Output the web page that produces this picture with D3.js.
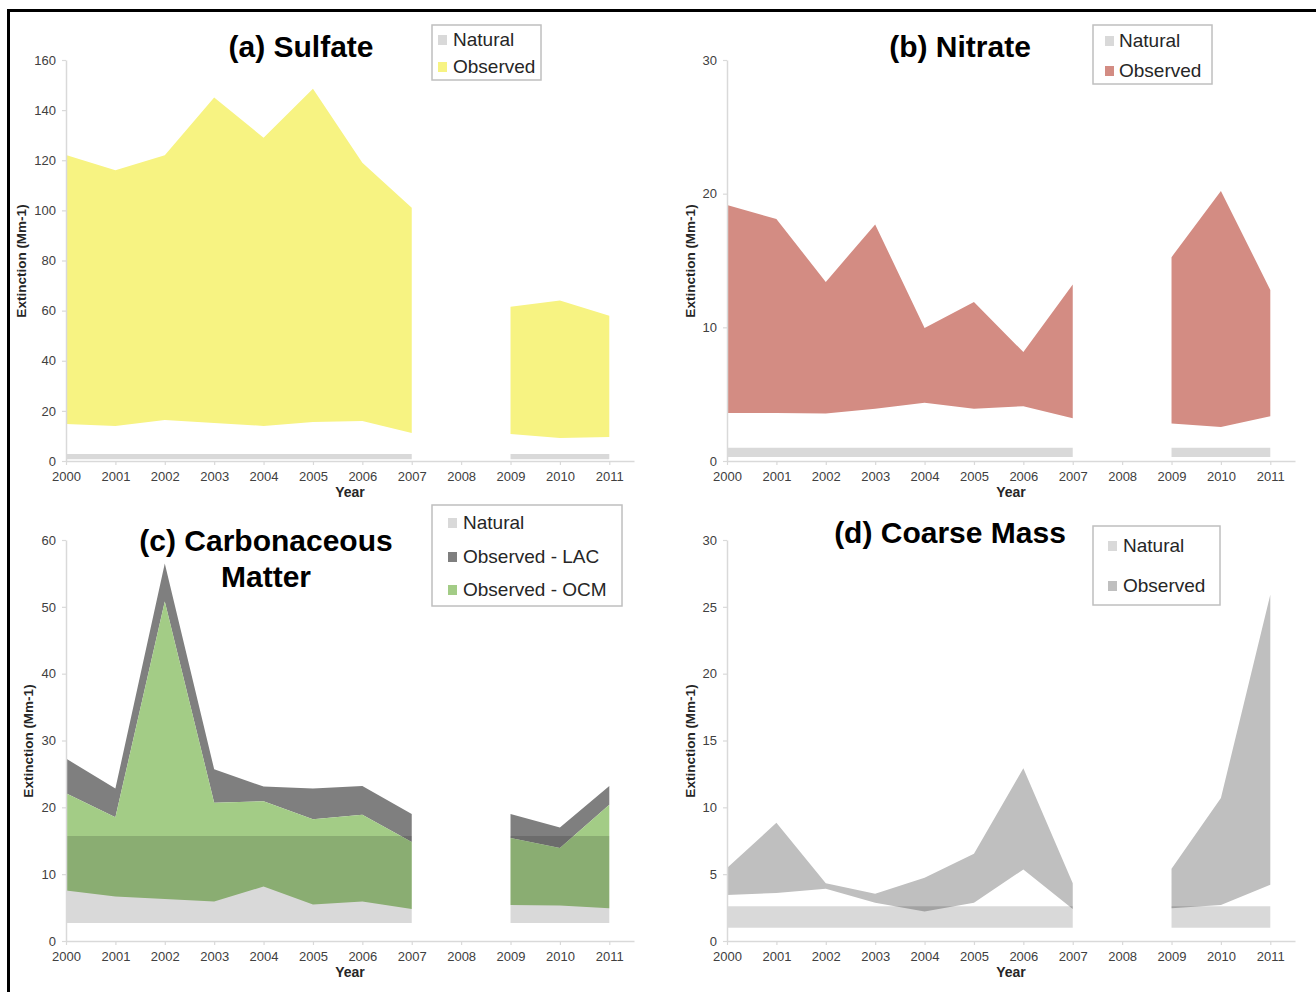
<!DOCTYPE html>
<html><head><meta charset="utf-8">
<script src="https://cdn.jsdelivr.net/npm/d3@7/dist/d3.min.js"></script>
<style>
body{margin:0;background:#fff;}
text{font-family:"Liberation Sans",Arial,sans-serif;}
</style></head>
<body><svg id="c" width="1316" height="992"></svg>
<script>
// ---------- data ----------
const years = [2000,2001,2002,2003,2004,2005,2006,2007,2008,2009,2010,2011];

const sulfateBase = [14.8,14.0,16.4,15.2,14.0,15.6,16.0,11.2,null,10.8,9.2,9.6];
const sulfateTop  = [122.1,116,122,145,129,148.5,119,101,null,61.5,64,58];
const sulfateNatLow  = [0.7,0.7,0.7,0.7,0.7,0.7,0.7,0.7,null,0.7,0.7,0.7];
const sulfateNatHigh = [2.8,2.8,2.8,2.8,2.8,2.8,2.8,2.8,null,2.8,2.8,2.8];

const nitrateBase = [3.6,3.6,3.55,3.9,4.35,3.9,4.1,3.2,null,2.8,2.55,3.35];
const nitrateTop  = [19.15,18.1,13.4,17.7,9.95,11.9,8.15,13.2,null,15.25,20.2,12.8];
const nitrateNatLow  = [0.3,0.3,0.3,0.3,0.3,0.3,0.3,0.3,null,0.3,0.3,0.3];
const nitrateNatHigh = [1.0,1.0,1.0,1.0,1.0,1.0,1.0,1.0,null,1.0,1.0,1.0];

const ocmBase = [7.55,6.65,6.3,5.9,8.15,5.45,5.9,4.8,null,5.4,5.3,4.9];
const ocmTop  = [22.1,18.5,50.8,20.7,20.9,18.2,18.9,14.8,null,15.4,13.9,20.4];
const lacTop  = [27.3,22.8,56.5,25.7,23.1,22.8,23.2,19.0,null,19.0,17.0,23.2];
const carbNatLow  = [2.7,2.7,2.7,2.7,2.7,2.7,2.7,2.7,null,2.7,2.7,2.7];
const carbNatHigh = [15.7,15.7,15.7,15.7,15.7,15.7,15.7,15.7,null,15.7,15.7,15.7];

const coarseBase = [3.45,3.6,3.9,2.86,2.2,2.86,5.35,2.4,null,2.45,2.7,4.2];
const coarseTop  = [5.47,8.84,4.32,3.53,4.73,6.52,12.93,4.32,null,5.4,10.7,25.9];
const coarseNatLow  = [1.0,1.0,1.0,1.0,1.0,1.0,1.0,1.0,null,1.0,1.0,1.0];
const coarseNatHigh = [2.6,2.6,2.6,2.6,2.6,2.6,2.6,2.6,null,2.6,2.6,2.6];

const sulfateTicks = [0,20,40,60,80,100,120,140,160];
const nitrateTicks = [0,10,20,30];
const carbTicks = [0,10,20,30,40,50,60];
const coarseTicks = [0,5,10,15,20,25,30];

// ---------- drawing ----------
const svg = d3.select("#c");
svg.append("rect").attr("width",1316).attr("height",992).attr("fill","#fff");

const panels = [
  {left:66,top:60,bottom:461,max:160,ticks:sulfateTicks,ytx:21,ytitleY:261,
   title:["(a) Sulfate"],titleX:301,titleY:[57],
   layers:[{lo:sulfateBase,hi:sulfateTop,fill:"#f7f382"}],
   nat:[sulfateNatLow,sulfateNatHigh],
   legend:{x:432,y:25,w:109,h:55,items:[["Natural","#d9d9d9",46],["Observed","#f7f382",73]],tx:453,sx:438}},
  {left:727,top:60,bottom:461,max:30,ticks:nitrateTicks,ytx:690,ytitleY:261,
   title:["(b) Nitrate"],titleX:960,titleY:[57],
   layers:[{lo:nitrateBase,hi:nitrateTop,fill:"#d38c83"}],
   nat:[nitrateNatLow,nitrateNatHigh],
   legend:{x:1093,y:25,w:119,h:59,items:[["Natural","#d9d9d9",47],["Observed","#d38c83",77]],tx:1119,sx:1105}},
  {left:66,top:540,bottom:941,max:60,ticks:carbTicks,ytx:28,ytitleY:741,
   title:["(c) Carbonaceous","Matter"],titleX:266,titleY:[551,587],
   layers:[{lo:ocmTop,hi:lacTop,fill:"#7f7f7f"},{lo:ocmBase,hi:ocmTop,fill:"#a3cc86"}],
   nat:[carbNatLow,carbNatHigh],
   legend:{x:432,y:505,w:190,h:101,items:[["Natural","#d9d9d9",529],["Observed - LAC","#7f7f7f",563],["Observed - OCM","#a3cc86",596]],tx:463,sx:448}},
  {left:727,top:540,bottom:941,max:30,ticks:coarseTicks,ytx:690,ytitleY:741,
   title:["(d) Coarse Mass"],titleX:950,titleY:[543],
   layers:[{lo:coarseBase,hi:coarseTop,fill:"#bfbfbf"}],
   nat:[coarseNatLow,coarseNatHigh],
   legend:{x:1093,y:526,w:127,h:79,items:[["Natural","#d9d9d9",552],["Observed","#bfbfbf",592]],tx:1123,sx:1108}}
];

panels.forEach(p=>{
  const x = d3.scaleLinear().domain([2000,2011.5]).range([p.left,p.left+568]);
  const y = d3.scaleLinear().domain([0,p.max]).range([p.bottom,p.top]);
  const g = svg.append("g");

  const mkArea = (lo,hi)=> d3.area()
     .defined((d,i)=>lo[i]!==null && hi[i]!==null)
     .x((d)=>x(d)).y0((d,i)=>y(lo[i])).y1((d,i)=>y(hi[i]));

  p.layers.forEach(L=>{
    g.append("path").datum(years).attr("d",mkArea(L.lo,L.hi)(years)).attr("fill",L.fill);
  });
  // natural band (translucent overlay)
  g.append("path").datum(years).attr("d",mkArea(p.nat[0],p.nat[1])(years))
    .attr("fill","#000").attr("fill-opacity",0.15);

  // axes
  const xa = g.append("g").attr("transform",`translate(0,${p.bottom})`)
    .call(d3.axisBottom(x).tickValues(years).tickFormat(d3.format("d")).tickSize(4).tickSizeOuter(0).tickPadding(7));
  const ya = g.append("g").attr("transform",`translate(${p.left},0)`)
    .call(d3.axisLeft(y).tickValues(p.ticks).tickSize(4).tickSizeOuter(0).tickPadding(6));
  [xa,ya].forEach(a=>{
    a.select(".domain").attr("stroke","#d9d9d9").attr("stroke-width",1.5);
    a.selectAll(".tick line").attr("stroke","#d9d9d9").attr("stroke-width",1.2);
    a.selectAll("text").attr("fill","#404040").style("font-size","13px").style("font-family","'Liberation Sans',Arial,sans-serif");
  });

  // axis titles
  g.append("text").attr("x",p.left+284).attr("y",p.bottom+36).attr("text-anchor","middle")
    .style("font-size","14px").style("font-weight","bold").attr("fill","#262626").text("Year");
  g.append("text").attr("transform",`translate(${p.ytx},${p.ytitleY}) rotate(-90)`)
    .attr("text-anchor","middle").attr("dy","0.35em")
    .style("font-size","13.5px").style("font-weight","bold").attr("fill","#262626").text("Extinction (Mm-1)");

  // title
  p.title.forEach((t,i)=>{
    g.append("text").attr("x",p.titleX).attr("y",p.titleY[i]).attr("text-anchor","middle")
      .style("font-size","30px").style("font-weight","bold").attr("fill","#000").text(t);
  });

  // legend
  const L = p.legend;
  g.append("rect").attr("x",L.x).attr("y",L.y).attr("width",L.w).attr("height",L.h)
    .attr("fill","#fff").attr("stroke","#bfbfbf").attr("stroke-width",1.5);
  L.items.forEach(it=>{
    g.append("rect").attr("x",L.sx).attr("y",it[2]-11).attr("width",9).attr("height",10).attr("fill",it[1]);
    g.append("text").attr("x",L.tx).attr("y",it[2]).style("font-size","19px").attr("fill","#262626").text(it[0]);
  });
});

// frame
svg.append("path").attr("d","M8.5,992 V10.5 H1316").attr("fill","none").attr("stroke","#000").attr("stroke-width",3);
</script></body></html>
